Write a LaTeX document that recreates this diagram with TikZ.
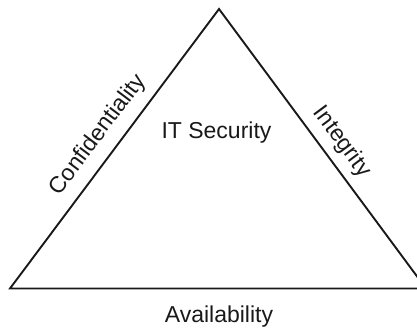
\documentclass[tikz,border=0pt]{standalone}
\usepackage{fontspec}
\setmainfont{Liberation Sans}
\begin{document}
\begin{tikzpicture}[x=1pt,y=-1pt,
  edge/.style={line width=1.9pt, line join=miter, draw=black!90},
  lbl/.style={font=\fontsize{23}{27}\selectfont, text=black!90, inner sep=0pt}]
\useasboundingbox (0,0) rectangle (417,328);
\clip (0,0) rectangle (417,328);
\coordinate (T) at (219,9);
\coordinate (L) at (10,288.5);
\coordinate (R) at (426,288.5);
\draw[edge] (T) -- (L) -- (R) -- cycle;
\node[lbl, anchor=base] (sec) at (216.5,139) {IT Security};
\node[lbl, anchor=base] (ava) at (219,322) {Availability};
\node[lbl, rotate=53.1] (con) at (98,135) {Confidentiality};
\node[lbl, rotate=-53.5] (int) at (342,142) {Integrity};
\end{tikzpicture}
\end{document}
